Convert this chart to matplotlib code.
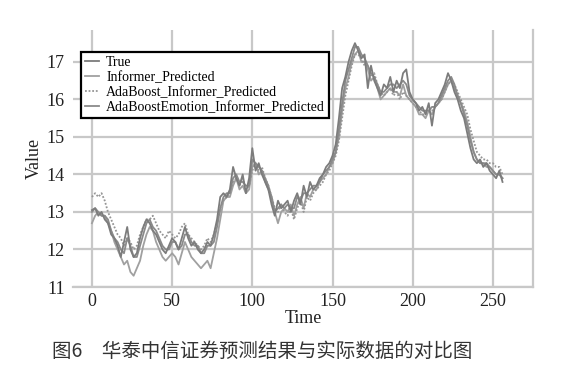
import matplotlib
matplotlib.use("Agg")
import matplotlib.pyplot as plt
import numpy as np

time_idx = list(range(0, 258, 2))

true_vals = [13.05, 13.1, 12.9, 13.0, 12.8, 12.7, 12.4, 12.3, 12.1, 11.8,
             12.2, 12.6, 12.0, 11.8, 11.9, 12.3, 12.6, 12.8, 12.7, 12.5,
             12.4, 12.2, 12.0, 11.9, 12.1, 12.3, 12.2, 12.0, 12.3, 12.6,
             12.3, 12.1, 12.2, 12.0, 11.9, 12.0, 12.2, 12.1, 12.4, 12.8,
             13.4, 13.5, 13.4, 13.6, 14.2, 13.9, 13.7, 14.0, 13.5, 13.9,
             14.7, 14.1, 14.3, 14.0, 13.8, 13.6, 13.2, 12.9, 13.3, 13.1,
             13.2, 13.3, 13.0, 13.3, 13.5, 13.2, 13.7, 13.4, 13.8, 13.6,
             13.7, 13.9, 14.0, 14.2, 14.3, 14.5, 14.8, 15.5, 16.3, 16.6,
             17.0, 17.3, 17.5, 17.3, 17.1, 17.2, 16.3, 16.9, 16.5, 16.3,
             16.1, 16.4, 16.3, 16.6, 16.2, 16.5, 16.3, 16.7, 16.8, 16.2,
             16.0, 15.9, 15.7, 15.8, 15.6, 15.9, 15.3, 15.9, 16.0, 16.2,
             16.4, 16.7, 16.5, 16.2, 16.0, 15.7, 15.5, 15.1, 14.7, 14.4,
             14.3, 14.4, 14.2, 14.3, 14.1, 14.0, 13.9, 14.1, 13.8]

informer_vals = [12.7, 12.9, 13.0, 12.9, 12.9, 12.7, 12.5, 12.2, 12.0, 11.8,
                 11.6, 11.7, 11.4, 11.3, 11.5, 11.7, 12.1, 12.4, 12.6, 12.5,
                 12.2, 12.0, 11.8, 11.7, 11.8, 11.9, 11.8, 11.6, 11.9, 12.2,
                 12.0, 11.8, 11.7, 11.6, 11.5, 11.6, 11.7, 11.5, 11.9, 12.3,
                 12.8, 13.3, 13.4, 13.4, 13.7, 13.9, 13.6, 13.7, 13.5, 13.6,
                 14.2, 14.3, 14.0, 14.1, 13.8, 13.6, 13.4, 13.0, 12.7, 13.0,
                 13.1, 13.0, 13.2, 12.9, 13.2, 13.4, 13.1, 13.5, 13.4, 13.6,
                 13.6, 13.8, 13.9, 14.0, 14.2, 14.3, 14.6, 15.0, 15.7, 16.3,
                 16.6, 17.0, 17.2, 17.3, 17.0, 17.0, 16.8, 16.5, 16.6, 16.3,
                 16.0, 16.1, 16.2, 16.3, 16.2, 16.2, 16.1, 16.4, 16.1, 16.0,
                 15.9, 15.8, 15.6, 15.6, 15.5, 15.7, 15.6, 15.8, 15.9, 16.0,
                 16.2, 16.4, 16.5, 16.3, 16.1, 15.9, 15.7, 15.4, 15.0, 14.6,
                 14.4, 14.3, 14.3, 14.2, 14.2, 14.1, 14.0, 14.0, 13.9]

adaboost_vals = [13.4, 13.5, 13.4, 13.5, 13.3, 13.0, 12.8, 12.6, 12.4, 12.3,
                 12.1, 12.3, 12.2, 12.0, 12.1, 12.4, 12.6, 12.8, 12.8, 12.9,
                 12.7, 12.5, 12.4, 12.3, 12.5, 12.4, 12.3, 12.4, 12.6, 12.7,
                 12.4, 12.3, 12.2, 12.1, 12.0, 12.1, 12.3, 12.2, 12.4, 12.7,
                 13.1, 13.3, 13.4, 13.5, 13.8, 13.9, 13.7, 13.9, 13.6, 13.7,
                 14.1, 14.3, 14.1, 14.2, 13.9, 13.7, 13.4, 13.1, 13.0, 13.2,
                 13.0, 12.9, 13.1, 12.8, 13.1, 13.3, 13.0, 13.4, 13.3, 13.5,
                 13.6, 13.7, 13.8, 14.0, 14.1, 14.3, 14.5, 14.9, 15.5, 16.1,
                 16.5, 16.9, 17.2, 17.2, 17.1, 16.9, 16.9, 16.6, 16.7, 16.4,
                 16.2, 16.1, 16.2, 16.3, 16.1, 16.2, 16.0, 16.2, 16.1, 16.0,
                 15.9, 15.8, 15.7, 15.6, 15.6, 15.7, 15.7, 15.8, 15.9, 16.0,
                 16.2, 16.4, 16.5, 16.4, 16.2, 16.0, 15.8, 15.6, 15.2, 14.9,
                 14.6, 14.5, 14.4, 14.4, 14.3, 14.3, 14.2, 14.2, 14.0]

emotion_vals = [13.0, 13.1, 13.0, 12.9, 12.9, 12.8, 12.5, 12.3, 12.2, 12.0,
                11.9, 12.3, 12.1, 11.8, 11.8, 12.1, 12.4, 12.7, 12.8, 12.6,
                12.5, 12.3, 12.1, 12.0, 12.0, 12.2, 12.2, 12.0, 12.1, 12.4,
                12.4, 12.2, 12.1, 12.1, 11.9, 11.9, 12.1, 12.1, 12.2, 12.6,
                13.1, 13.4, 13.5, 13.5, 13.9, 14.0, 13.8, 13.8, 13.7, 13.7,
                14.4, 14.3, 14.2, 14.1, 13.9, 13.7, 13.4, 13.0, 13.1, 13.2,
                13.1, 13.2, 13.1, 13.1, 13.4, 13.3, 13.5, 13.5, 13.6, 13.7,
                13.7, 13.8, 14.0, 14.1, 14.2, 14.4, 14.6, 15.2, 15.9, 16.5,
                16.8, 17.1, 17.4, 17.4, 17.2, 17.1, 16.9, 16.7, 16.6, 16.4,
                16.2, 16.2, 16.3, 16.4, 16.4, 16.3, 16.4, 16.5, 16.4, 16.1,
                16.0, 15.9, 15.8, 15.7, 15.7, 15.7, 15.8, 15.8, 15.9, 16.1,
                16.3, 16.5, 16.6, 16.4, 16.1, 15.9, 15.6, 15.3, 14.9, 14.6,
                14.4, 14.3, 14.3, 14.3, 14.2, 14.1, 14.0, 14.0, 13.9]

series_labels = ["True", "Informer_Predicted", "AdaBoost_Informer_Predicted",
                 "AdaBoostEmotion_Informer_Predicted"]
x_ticks = [0, 50, 100, 150, 200, 250]
y_ticks = [11, 12, 13, 14, 15, 16, 17]
caption = "图6　华泰中信证券预测结果与实际数据的对比图"

serif = "Liberation Serif"
grid_c = "#c8c8c8"

fig = plt.figure(figsize=(5.64, 3.72), dpi=100)
ax = fig.add_axes([73/564, 1-287/372, 460/564, 257/372])

ax.plot(time_idx, true_vals, color="#7c7c7c", lw=1.3, label=series_labels[0], zorder=4)
ax.plot(time_idx, informer_vals, color="#a0a0a0", lw=1.3, label=series_labels[1], zorder=3)
ax.plot(time_idx, adaboost_vals, color="#959595", lw=1.3, ls=(0, (1, 1)), label=series_labels[2], zorder=3)
ax.plot(time_idx, emotion_vals, color="#8a8a8a", lw=1.3, label=series_labels[3], zorder=3)

ax.set_xlim(-11.8, 275)
ax.set_ylim(11, 17.85)
ax.set_xticks(x_ticks)
ax.set_yticks(y_ticks)
ax.grid(True, color=grid_c, lw=1.6, zorder=0)
ax.set_axisbelow(True)
for s in ["top", "left"]:
    ax.spines[s].set_visible(False)
for s in ["bottom", "right"]:
    ax.spines[s].set_color(grid_c)
    ax.spines[s].set_linewidth(1.6)
ax.tick_params(axis="both", length=0, pad=4, labelsize=13, labelcolor="#222222")
for lab in ax.get_xticklabels() + ax.get_yticklabels():
    lab.set_fontfamily(serif)
ax.tick_params(axis="y", pad=6)

ax.set_xlabel("Time", fontfamily=serif, fontsize=13, color="#222222", labelpad=0)
ax.set_ylabel("Value", fontfamily=serif, fontsize=13, color="#222222", labelpad=3)

leg = ax.legend(loc="upper left", bbox_to_anchor=(0.018, 0.915), prop={"family": serif, "size": 10},
                handlelength=1.0, handletextpad=0.5, borderpad=0.3, labelspacing=0.15,
                fancybox=False, framealpha=1, edgecolor="black", borderaxespad=0)
leg.get_frame().set_linewidth(1.6)

fig.text(0.465, 0.054, caption, ha="center", va="center", fontsize=14,
         family=["Noto Sans CJK SC", "DejaVu Sans"], color="#333333")

fig.savefig("out.png", dpi=100)
